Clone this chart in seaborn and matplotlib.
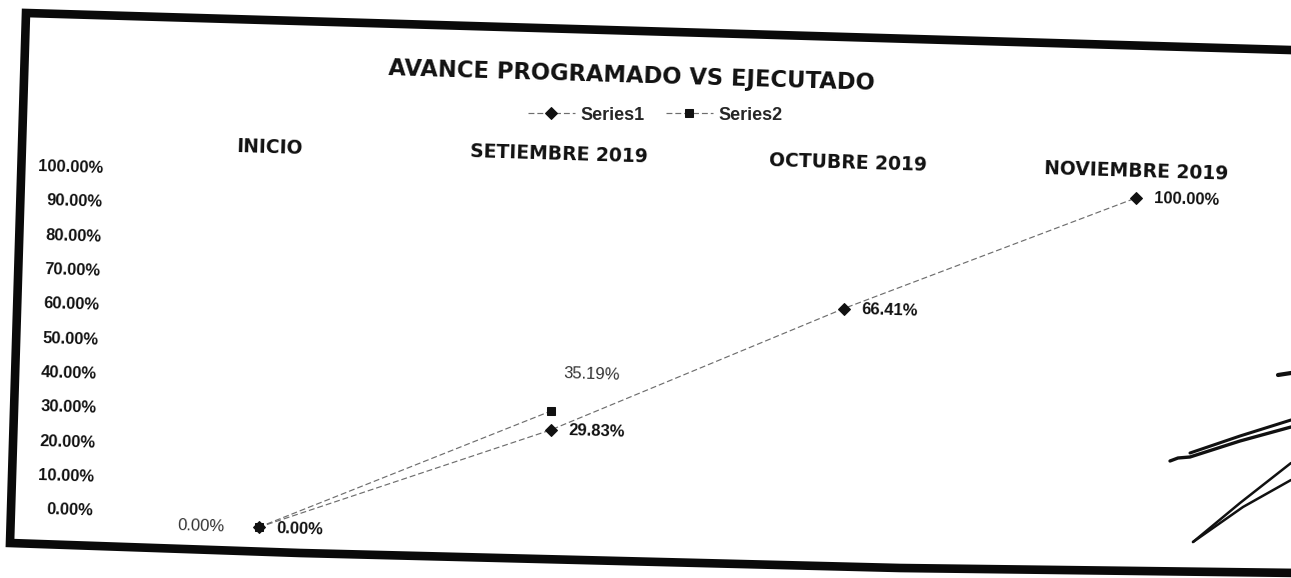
import numpy as np
import pandas as pd
import matplotlib
matplotlib.use("Agg")
import matplotlib.pyplot as plt
from matplotlib.transforms import Affine2D
from matplotlib.lines import Line2D
import seaborn as sns

# ---- data -------------------------------------------------------------
titulo = "AVANCE PROGRAMADO VS EJECUTADO"
periodos = ["INICIO", "SETIEMBRE 2019", "OCTUBRE 2019", "NOVIEMBRE 2019"]
series = ["Series1", "Series2"]
programado = [0.00, 29.83, 66.41, 100.00]   # Series1
ejecutado = [0.00, 35.19]                   # Series2
yticks = [0, 10, 20, 30, 40, 50, 60, 70, 80, 90, 100]

# ---- page geometry (pixels) -------------------------------------------
W, H, DPI = 1291, 578, 100
TILT = -1.75                       # the sheet sits slightly askew
CENTER = (645, H - 289)            # pivot of the tilt, display pixels

sns.set_theme(style="white")
plt.rcParams["font.family"] = ["Liberation Sans", "DejaVu Sans"]

fig = plt.figure(figsize=(W / DPI, H / DPI), dpi=DPI)
fig.patch.set_facecolor("white")
rot = Affine2D().rotate_deg_around(CENTER[0], CENTER[1], TILT)


def fx(px):
    return px / W


def fy(py):
    return 1 - py / H


# scale column on the left (percent labels)
ax_scale = fig.add_axes([fx(110), fy(525), fx(1250) - fx(110), fy(181.5) - fy(525)])
ax_scale.set_facecolor("none")
ax_scale.set_ylim(0, 100)
ax_scale.set_xticks([])
ax_scale.set_yticks(yticks)
ax_scale.set_yticklabels([f"{v:.2f}%" for v in yticks])
ax_scale.tick_params(axis="y", length=0, pad=7)
for lab in ax_scale.get_yticklabels():
    lab.set_fontfamily("Liberation Sans")
    lab.set_fontweight("bold")
    lab.set_fontsize(12)
    lab.set_color("#111111")
for sp in ax_scale.spines.values():
    sp.set_visible(False)

# plotting area for the two series
ax = fig.add_axes([fx(110), fy(539), fx(1250) - fx(110), fy(183) - fy(539)])
ax.set_facecolor("none")

df = pd.concat([
    pd.DataFrame({"pos": np.arange(len(programado)), "avance": programado,
                  "serie": series[0]}),
    pd.DataFrame({"pos": np.arange(len(ejecutado)), "avance": ejecutado,
                  "serie": series[1]}),
], ignore_index=True)

sns.lineplot(data=df, x="pos", y="avance", hue="serie", style="serie",
             palette={series[0]: "#6e6e6e", series[1]: "#6e6e6e"},
             markers={series[0]: "D", series[1]: "s"},
             dashes={series[0]: (5, 2.5), series[1]: (5, 2.5)},
             linewidth=0.85, markersize=6, markeredgecolor="#111111",
             legend=False, ax=ax)
for ln in ax.lines:
    ln.set_markerfacecolor("#111111")

ax.set_xlim(-0.5398, 3.4048)
ax.set_ylim(0, 100)
ax.set_xlabel("")
ax.set_ylabel("")
ax.set_yticks([])
ax.set_xticks(range(len(periodos)))
ax.set_xticklabels(periodos)
ax.xaxis.tick_top()
ax.tick_params(axis="both", length=0)
ax.tick_params(axis="x", pad=10)
for lab in ax.get_xticklabels():
    lab.set_fontfamily("DejaVu Sans")
    lab.set_fontweight("bold")
    lab.set_fontsize(13.5)
    lab.set_color("#111111")
for sp in ax.spines.values():
    sp.set_visible(False)
ax.grid(False)

# legend above the plot
fig.legend(handles=ax.lines[:2], labels=series, loc="center",
           bbox_to_anchor=(fx(655), fy(115)), ncol=2, frameon=False,
           prop={"family": "Liberation Sans", "weight": "bold", "size": 13},
           handlelength=2.6, handletextpad=0.3, columnspacing=1.2)

# value labels (offsets in pixels)
for i, v in enumerate(programado):
    ax.annotate(f"{v:.2f}%", xy=(i, v), xycoords=ax.transData + rot,
                xytext=(18, -1), textcoords="offset pixels", ha="left", va="center",
                rotation=TILT, rotation_mode="anchor",
                fontfamily="Liberation Sans", fontweight="bold", fontsize=12,
                color="#111111", annotation_clip=False)
off_ejec = [(-34, 0, "right"), (40, 37, "center")]
for i, v in enumerate(ejecutado):
    dx, dy, ha = off_ejec[i]
    ax.annotate(f"{v:.2f}%", xy=(i, v), xycoords=ax.transData + rot,
                xytext=(dx, dy), textcoords="offset pixels", ha=ha, va="center",
                rotation=TILT, rotation_mode="anchor",
                fontfamily="Liberation Sans", fontweight="normal", fontsize=12,
                color="#333333", annotation_clip=False)

# title
fig.text(625, H - 76, titulo, transform=rot, rotation=TILT,
         rotation_mode="anchor", ha="center", va="center",
         fontfamily="DejaVu Sans", fontweight="bold", fontsize=16.3,
         color="#111111")

# heavy border around the sheet
borde_x = [1300, 26, 10, 300, 900, 1300]
borde_y = [50.3, 13, 543, 553, 568, 573]
fig.add_artist(Line2D([fx(x) for x in borde_x], [fy(y) for y in borde_y],
                      transform=fig.transFigure, color="#0a0a0a",
                      linewidth=6.2, solid_joinstyle="miter"))

# handwritten initials in the lower right corner
firma = [
    ([1278, 1291], [375, 373], 3.0),
    ([1190, 1240, 1291], [453, 436, 420], 2.2),
    ([1170, 1178, 1190, 1240, 1291], [461, 458, 457, 441, 427], 2.4),
    ([1193, 1240, 1291], [542, 503, 463], 1.8),
    ([1193, 1243, 1291], [542, 507, 480], 1.8),
]
for xs, ys, lw in firma:
    fig.add_artist(Line2D([fx(x) for x in xs], [fy(y) for y in ys],
                          transform=fig.transFigure, color="#111111",
                          linewidth=lw, solid_capstyle="round"))

# tilt the plotted series and axis labels together with the sheet
fig.canvas.draw()
for ln in ax.lines:
    ln.set_transform(ax.transData + rot)
    ln.set_clip_on(False)
for t in ax.xaxis.get_major_ticks():
    t.label2.set_transform(t.label2.get_transform() + rot)
    t.label2.set_rotation(TILT)
for t in ax_scale.yaxis.get_major_ticks():
    t.label1.set_transform(t.label1.get_transform() + rot)
    t.label1.set_rotation(TILT)

fig.savefig("out.png", dpi=DPI, facecolor="white")
